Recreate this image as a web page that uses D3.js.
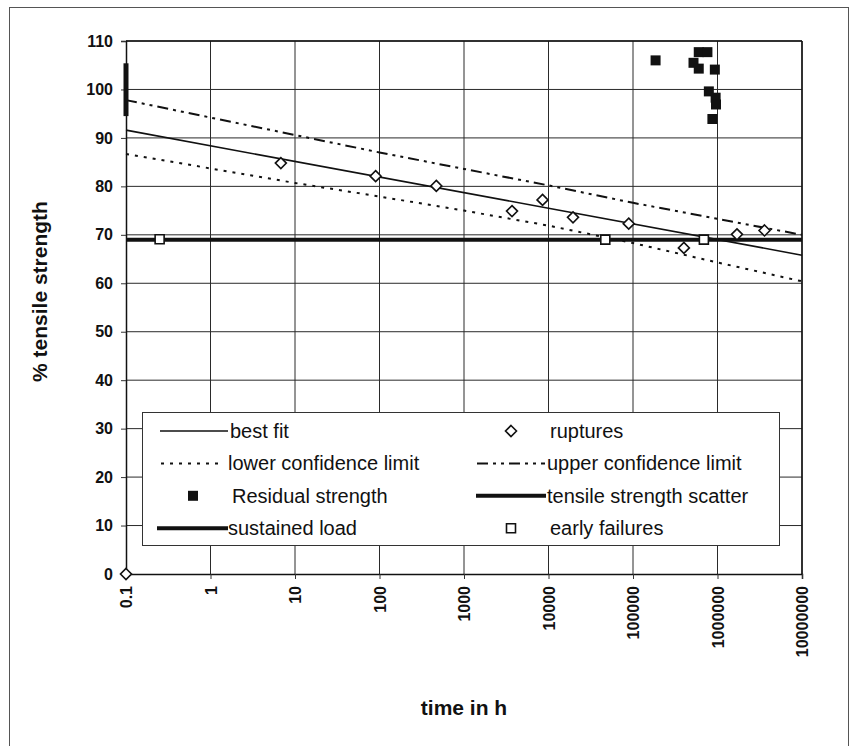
<!DOCTYPE html>
<html>
<head>
<meta charset="utf-8">
<script src="https://cdn.jsdelivr.net/npm/d3@7"></script>
<style>
  body { margin: 0; background: #fff; }
  text { font-family: "Liberation Sans", Arial, sans-serif; fill: #111; }
  .tick-label { font-weight: bold; font-size: 16px; }
  .axis-title { font-weight: bold; font-size: 21px; }
  .legend-text { font-size: 20px; }
</style>
</head>
<body>
<svg id="chart"></svg>
<script>
// decade ticks on the time axis
const timeTicks = [0.1, 1, 10, 100, 1000, 10000, 100000, 1000000, 10000000];
const timeTickLabels = ['0.1', '1', '10', '100', '1000', '10000', '100000', '1000000', '10000000'];
const strengthTicks = [0, 10, 20, 30, 40, 50, 60, 70, 80, 90, 100, 110];

// best fit regression line (straight in log time)
const bestFitTime = [0.1, 10000000];
const bestFitValue = [91.6, 65.8];

// confidence limits read at every decade
const limitTime = [0.1, 1, 10, 100, 1000, 10000, 100000, 1000000, 10000000];
const upperLimitValue = [97.8, 94.2, 90.6, 87.0, 83.6, 80.2, 76.6, 73.3, 70.0];
const lowerLimitValue = [86.7, 83.7, 80.7, 77.9, 75.0, 71.9, 68.3, 64.3, 60.4];

// ruptures
const ruptureTime = [0.1, 6.8, 90, 470, 3700, 8500, 19500, 89000, 400000, 1700000, 3600000];
const ruptureValue = [0, 84.8, 82.1, 80.1, 74.9, 77.2, 73.6, 72.3, 67.3, 70.1, 70.9];

// residual strength after sustained load
const residualTime = [185000, 520000, 600000, 600000, 760000, 930000, 790000, 950000, 960000, 870000];
const residualValue = [106, 105.5, 107.7, 104.3, 107.7, 104.1, 99.6, 98.3, 96.9, 93.9];

// early failures
const earlyTime = [0.25, 47000, 690000];
const earlyValue = [69.1, 69, 69];

// sustained load level and tensile strength scatter
const sustainedTime = [0.1, 10000000];
const sustainedValue = [69, 69];
const scatterTime = [0.1, 0.1];
const scatterValue = [94.5, 105.4];

const legendRows = [
  { left: 'best fit', right: 'ruptures' },
  { left: 'lower confidence limit', right: 'upper confidence limit' },
  { left: 'Residual strength', right: 'tensile strength scatter' },
  { left: 'sustained load', right: 'early failures' },
];

const W = 856;
const H = 746;
const margin = { top: 41, right: 54, bottom: 172, left: 126 };

const svg = d3.select('#chart')
  .attr('width', W)
  .attr('height', H);

// outer frame of the figure
svg.append('rect')
  .attr('x', 9.5)
  .attr('y', 7.5)
  .attr('width', 839)
  .attr('height', 760)
  .attr('fill', 'none')
  .attr('stroke', '#555')
  .attr('stroke-width', 1);

const x = d3.scaleLog()
  .domain([0.1, 10000000])
  .range([margin.left, W - margin.right]);

const y = d3.scaleLinear()
  .domain([0, 110])
  .range([H - margin.bottom, margin.top]);

const zip = (a, b) => a.map((d, i) => [d, b[i]]);

// gridlines
svg.append('g')
  .selectAll('line')
  .data(strengthTicks.slice(1))
  .join('line')
  .attr('x1', x.range()[0])
  .attr('x2', x.range()[1])
  .attr('y1', (d) => y(d))
  .attr('y2', (d) => y(d))
  .attr('stroke', '#2a2a2a')
  .attr('stroke-width', 1);

svg.append('g')
  .selectAll('line')
  .data(timeTicks.slice(1))
  .join('line')
  .attr('x1', (d) => x(d))
  .attr('x2', (d) => x(d))
  .attr('y1', y.range()[0])
  .attr('y2', y.range()[1])
  .attr('stroke', '#2a2a2a')
  .attr('stroke-width', 1);

// axes
const xAxis = d3.axisBottom(x)
  .tickValues(timeTicks)
  .tickSize(5)
  .tickFormat((d, i) => timeTickLabels[i]);

const yAxis = d3.axisLeft(y)
  .tickValues(strengthTicks)
  .tickSize(5)
  .tickPadding(8);

const xAxisG = svg.append('g')
  .attr('transform', `translate(0,${y(0)})`)
  .call(xAxis);
xAxisG.select('.domain').attr('stroke', '#111').attr('stroke-width', 1.5);
xAxisG.selectAll('.tick line').attr('stroke', '#333');
xAxisG.selectAll('.tick text')
  .attr('class', 'tick-label')
  .attr('text-anchor', 'end')
  .attr('transform', 'rotate(-90)')
  .attr('x', -12)
  .attr('y', 0)
  .attr('dy', '0.36em');

const yAxisG = svg.append('g')
  .attr('transform', `translate(${x(0.1)},0)`)
  .call(yAxis);
yAxisG.select('.domain').attr('stroke', '#111').attr('stroke-width', 1.5);
yAxisG.selectAll('.tick line').attr('stroke', '#333');
yAxisG.selectAll('.tick text').attr('class', 'tick-label');

// right and top border of the plot
svg.append('line')
  .attr('x1', x(10000000))
  .attr('x2', x(10000000))
  .attr('y1', y(0))
  .attr('y2', y(110))
  .attr('stroke', '#111')
  .attr('stroke-width', 1.5);
svg.append('line')
  .attr('x1', x(0.1))
  .attr('x2', x(10000000))
  .attr('y1', y(110))
  .attr('y2', y(110))
  .attr('stroke', '#111')
  .attr('stroke-width', 1.5);

// axis titles
svg.append('text')
  .attr('class', 'axis-title')
  .attr('text-anchor', 'middle')
  .attr('x', (x.range()[0] + x.range()[1]) / 2)
  .attr('y', 715)
  .text('time in h');

svg.append('text')
  .attr('class', 'axis-title')
  .attr('text-anchor', 'middle')
  .attr('transform', `translate(47,${(y(0) + y(110)) / 2 - 16}) rotate(-90)`)
  .text('% tensile strength');

const line = d3.line()
  .x((d) => x(d[0]))
  .y((d) => y(d[1]));

const styles = {
  best: { width: 1.6, dash: null },
  lower: { width: 2, dash: '3,6' },
  upper: { width: 2, dash: '11,5,3,5,3,5' },
  sustained: { width: 4, dash: null },
  scatter: { width: 5, dash: null },
};

const series = [
  { key: 'sustained', pts: zip(sustainedTime, sustainedValue) },
  { key: 'lower', pts: zip(limitTime, lowerLimitValue) },
  { key: 'upper', pts: zip(limitTime, upperLimitValue) },
  { key: 'best', pts: zip(bestFitTime, bestFitValue) },
  { key: 'scatter', pts: zip(scatterTime, scatterValue) },
];

svg.append('g')
  .selectAll('path')
  .data(series)
  .join('path')
  .attr('d', (d) => line(d.pts))
  .attr('fill', 'none')
  .attr('stroke', '#111')
  .attr('stroke-width', (d) => styles[d.key].width)
  .attr('stroke-dasharray', (d) => styles[d.key].dash);

// markers
const diamond = 'M0,-5.5L5.5,0L0,5.5L-5.5,0Z';
const square = (s) => `M${-s / 2},${-s / 2}h${s}v${s}h${-s}Z`;

svg.append('g')
  .selectAll('path')
  .data(zip(earlyTime, earlyValue))
  .join('path')
  .attr('transform', (d) => `translate(${x(d[0])},${y(d[1])})`)
  .attr('d', square(9))
  .attr('fill', '#fff')
  .attr('stroke', '#111')
  .attr('stroke-width', 1.6);

svg.append('g')
  .selectAll('path')
  .data(zip(ruptureTime, ruptureValue))
  .join('path')
  .attr('transform', (d) => `translate(${x(d[0])},${y(d[1])})`)
  .attr('d', diamond)
  .attr('fill', '#fff')
  .attr('stroke', '#111')
  .attr('stroke-width', 1.6);

svg.append('g')
  .selectAll('path')
  .data(zip(residualTime, residualValue))
  .join('path')
  .attr('transform', (d) => `translate(${x(d[0])},${y(d[1])})`)
  .attr('d', square(10))
  .attr('fill', '#111');

// legend
const legend = svg.append('g');
legend.append('rect')
  .attr('x', 142.5)
  .attr('y', 412.5)
  .attr('width', 637)
  .attr('height', 133)
  .attr('fill', '#fff')
  .attr('stroke', '#333')
  .attr('stroke-width', 1);

const rowY = (i) => 431 + i * 32.4;
const leftSym = [
  (g) => g.append('line').attr('x1', 160).attr('x2', 228).attr('stroke', '#111').attr('stroke-width', 1.6),
  (g) => g.append('line').attr('x1', 161).attr('x2', 224).attr('stroke', '#111').attr('stroke-width', 2).attr('stroke-dasharray', styles.lower.dash),
  (g) => g.append('path').attr('transform', 'translate(193,0)').attr('d', square(10)).attr('fill', '#111'),
  (g) => g.append('line').attr('x1', 157).attr('x2', 228).attr('stroke', '#111').attr('stroke-width', 4),
];
const rightSym = [
  (g) => g.append('path').attr('transform', 'translate(511,0)').attr('d', diamond).attr('fill', '#fff').attr('stroke', '#111').attr('stroke-width', 1.6),
  (g) => g.append('line').attr('x1', 477).attr('x2', 545).attr('stroke', '#111').attr('stroke-width', 2).attr('stroke-dasharray', styles.upper.dash),
  (g) => g.append('line').attr('x1', 476).attr('x2', 546).attr('stroke', '#111').attr('stroke-width', 4),
  (g) => g.append('path').attr('transform', 'translate(511,0)').attr('d', square(9)).attr('fill', '#fff').attr('stroke', '#111').attr('stroke-width', 1.6),
];
const leftTextX = [230, 228, 232, 228];
const rightTextX = [550, 547, 547, 550];

legendRows.forEach((row, i) => {
  const g = legend.append('g').attr('transform', `translate(0,${rowY(i)})`);
  leftSym[i](g);
  rightSym[i](g);
  g.append('text')
    .attr('class', 'legend-text')
    .attr('x', leftTextX[i])
    .attr('dy', '0.35em')
    .text(row.left);
  g.append('text')
    .attr('class', 'legend-text')
    .attr('x', rightTextX[i])
    .attr('dy', '0.35em')
    .text(row.right);
});
</script>
</body>
</html>
